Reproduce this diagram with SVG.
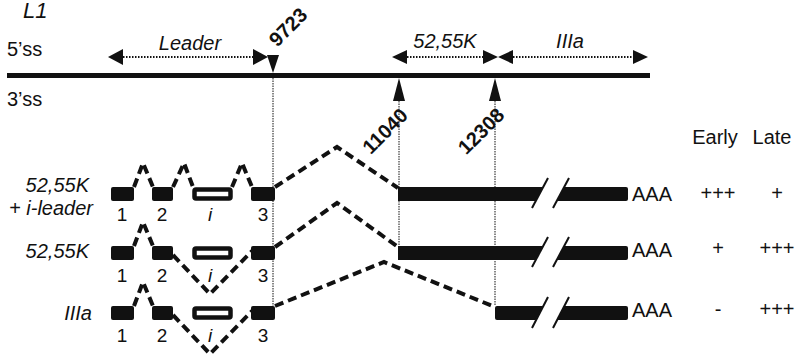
<svg xmlns="http://www.w3.org/2000/svg" width="797" height="354" viewBox="0 0 797 354">
<style>
text{font-family:"Liberation Sans",Arial,sans-serif;fill:#111;font-size:20px}
.it{font-style:italic}
.b{font-weight:bold;font-size:20px}
.m{text-anchor:middle}
.e{text-anchor:end}
.n{font-size:19px;text-anchor:middle}
.ex{fill:#111}
.ix{fill:#fff;stroke:#111;stroke-width:4.5}
.intr{fill:none;stroke:#111;stroke-width:4;stroke-dasharray:9,5}
.dot{fill:none;stroke:#111;stroke-width:2;stroke-dasharray:1.5,1.5}
.vd{fill:none;stroke:#111;stroke-width:1;stroke-dasharray:1.5,1}
.sl{stroke:#111;stroke-width:2}
.ah{fill:#111}
</style>
<rect width="797" height="354" fill="#fff"/>

<g id="header">
<text class="it" x="23" y="18" style="font-size:22px">L1</text>
<text x="7" y="56">5’ss</text>
<text x="7" y="106">3’ss</text>
<rect x="7" y="73" width="643" height="5" fill="#111"/>
</g>

<g id="regions">
<line class="dot" x1="123" y1="57" x2="253" y2="57"/>
<polygon class="ah" points="108,57 123,49 123,65"/>
<polygon class="ah" points="268,57 253,49 253,65"/>
<text class="it m" x="190" y="50">Leader</text>
<line class="dot" x1="407" y1="57" x2="483" y2="57"/>
<polygon class="ah" points="392,57 407,50 407,64"/>
<polygon class="ah" points="498,57 483,50 483,64"/>
<text class="it m" x="445" y="48">52,55K</text>
<line class="dot" x1="513" y1="57" x2="633" y2="57"/>
<polygon class="ah" points="498,57 513,50 513,64"/>
<polygon class="ah" points="648,57 633,50 633,64"/>
<text class="it m" x="570" y="48">IIIa</text>
</g>

<g id="sites">
<polygon class="ah" points="267,55 279,55 273,73"/>
<text class="b m" transform="translate(288,27) rotate(-45)" x="0" y="7">9723</text>
<polygon class="ah" points="399,78 393,101 405,101"/>
<text class="b m" transform="translate(385,131) rotate(-45)" x="0" y="7">11040</text>
<polygon class="ah" points="495,78 489,101 501,101"/>
<text class="b m" transform="translate(481,131) rotate(-45)" x="0" y="7">12308</text>
</g>

<g id="connectors">
<line class="vd" x1="273" y1="73" x2="273" y2="306"/>
<line class="vd" x1="399" y1="101" x2="399" y2="246"/>
<line class="vd" x1="495" y1="101" x2="495" y2="306"/>
<path class="intr" d="M134,187 L143,163 L153,187"/>
<path class="intr" d="M173,187 L184,163 L193,187"/>
<path class="intr" d="M232,187 L242,163 L252,187"/>
<path class="intr" d="M275,187 L337,147 L398,188"/>
<path class="intr" d="M134,246 L143,222 L153,246"/>
<path class="intr" d="M173,255 L210,294 L252,251"/>
<path class="intr" d="M275,247 L337,203 L398,247"/>
<path class="intr" d="M134,306 L143,282 L153,306"/>
<path class="intr" d="M173,315 L210,354 L252,311"/>
<path class="intr" d="M275,306 L384,262 L495,307"/>
</g>

<g id="row1">
<text class="it e" x="89" y="192">52,55K</text>
<text class="it e" x="93" y="215">+ i-leader</text>
<rect class="ex" x="111" y="187" width="23" height="14" rx="2"/>
<rect class="ex" x="152" y="187" width="21" height="14" rx="2"/>
<rect class="ix" x="194.5" y="189.5" width="36" height="9" rx="1.5"/>
<rect class="ex" x="251" y="187" width="24" height="14" rx="2"/>
<text class="n" x="122" y="221">1</text>
<text class="n" x="162" y="221">2</text>
<text class="n it" x="210" y="221">i</text>
<text class="n" x="263" y="221">3</text>
<polygon class="ex" points="398,187 543.2,187 535.7,201 398,201"/>
<path class="ex" d="M564.2,187 H626 Q628,187 628,189 V199 Q628,201 626,201 H556.7 Z"/>
<line class="sl" x1="532" y1="208" x2="548" y2="178"/>
<line class="sl" x1="553" y1="208" x2="569" y2="178"/>
<text x="632" y="201">AAA</text>
<text class="m" x="718" y="200">+++</text>
<text class="m" x="777" y="200">+</text>
</g>

<g id="row2">
<text class="it e" x="89" y="258">52,55K</text>
<rect class="ex" x="111" y="246" width="23" height="14" rx="2"/>
<rect class="ex" x="152" y="246" width="21" height="14" rx="2"/>
<rect class="ix" x="194.5" y="248.5" width="36" height="9" rx="1.5"/>
<rect class="ex" x="251" y="246" width="24" height="14" rx="2"/>
<text class="n" x="122" y="282">1</text>
<text class="n" x="162" y="282">2</text>
<text class="n it" x="210" y="282">i</text>
<text class="n" x="263" y="282">3</text>
<polygon class="ex" points="398,246 543.2,246 535.7,260 398,260"/>
<path class="ex" d="M564.2,246 H626 Q628,246 628,248 V258 Q628,260 626,260 H556.7 Z"/>
<line class="sl" x1="532" y1="267" x2="548" y2="237"/>
<line class="sl" x1="553" y1="267" x2="569" y2="237"/>
<text x="632" y="257">AAA</text>
<text class="m" x="718" y="255">+</text>
<text class="m" x="777" y="255">+++</text>
</g>

<g id="row3">
<text class="it e" x="92" y="320">IIIa</text>
<rect class="ex" x="111" y="306" width="23" height="14" rx="2"/>
<rect class="ex" x="152" y="306" width="21" height="14" rx="2"/>
<rect class="ix" x="194.5" y="308.5" width="36" height="9" rx="1.5"/>
<rect class="ex" x="251" y="306" width="24" height="14" rx="2"/>
<text class="n" x="122" y="342">1</text>
<text class="n" x="162" y="342">2</text>
<text class="n it" x="210" y="342">i</text>
<text class="n" x="263" y="342">3</text>
<path class="ex" d="M495,308 Q495,306 497,306 H543.2 L535.7,320 H497 Q495,320 495,318 Z"/>
<path class="ex" d="M564.2,306 H626 Q628,306 628,308 V318 Q628,320 626,320 H556.7 Z"/>
<line class="sl" x1="532" y1="328" x2="548" y2="297"/>
<line class="sl" x1="553" y1="328" x2="569" y2="297"/>
<text x="632" y="317">AAA</text>
<text class="m" x="718" y="316">-</text>
<text class="m" x="777" y="316">+++</text>
</g>

<g id="columns">
<text class="m" x="715" y="144">Early</text>
<text class="m" x="772" y="144">Late</text>
</g>
</svg>
